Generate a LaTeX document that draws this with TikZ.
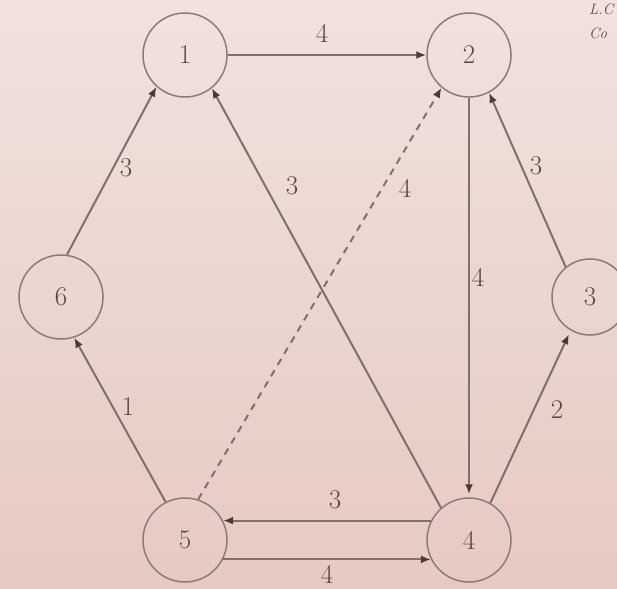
\documentclass[tikz,border=0pt]{standalone}
\usetikzlibrary{arrows.meta,shadings}
\definecolor{bgtop}{RGB}{240,226,222}
\definecolor{bgbot}{RGB}{230,202,194}
\definecolor{edgec}{RGB}{128,112,108}
\definecolor{circc}{RGB}{140,124,120}
\definecolor{tipc}{RGB}{75,58,54}
\definecolor{txtc}{RGB}{90,72,68}
\begin{document}
\begin{tikzpicture}[x=1pt,y=-1pt,
  vert/.style={circle,draw=circc,line width=1.5pt,minimum size=84pt,inner sep=0pt,text=txtc,font=\fontsize{27}{30}\selectfont},
  conn/.style={draw=edgec,line width=2pt,-{Latex[length=10pt,width=8pt,fill=tipc,color=tipc]}},
  lbl/.style={text=txtc,font=\fontsize{27}{30}\selectfont,inner sep=0pt},
  dashedconn/.style={conn,dash pattern=on 7pt off 6pt}]
\shade[top color=bgtop,bottom color=bgbot] (0,0) rectangle (617,588);
\useasboundingbox (0,0) rectangle (617,588);
\node[vert] (n1) at (185,55) {1};
\node[vert] (n2) at (469,55) {2};
\node[vert,minimum size=76pt] (n3) at (590,297) {3};
\node[vert] (n4) at (469,540) {4};
\node[vert] (n5) at (185,540) {5};
\node[vert] (n6) at (61,297) {6};
\node[anchor=west,text=txtc,font=\fontsize{15}{18}\selectfont\itshape,inner sep=0pt] (t1) at (589,9) {L.C};
\node[anchor=west,text=txtc,font=\fontsize{15}{18}\selectfont\itshape,inner sep=0pt] (t2) at (589,33) {Co};
% edges
\draw[conn] (n1.east) -- (n2.west);
\draw[conn,shorten >=3pt] (n2.south) -- (n4.north);
\draw[conn] (n3.129) -- (n2.298);
\draw[conn,shorten >=4pt] (n4.60) -- (n3.240);
\draw[conn] (n4.131) -- (n1.309);
\draw[dashedconn] (n5.72) -- (n2.230);
\draw[conn] (n5.117) -- (n6.288);
\draw[conn] (n6.82) -- (n1.228);
\draw[conn] (n4.153) -- (n5.27);
\draw[conn] (n5.-27) -- (n4.207);
% labels
\node[lbl] (l12) at (322,33) {4};
\node[lbl] (l24) at (478,277) {4};
\node[lbl] (l32) at (536,166) {3};
\node[lbl] (l43) at (557,410) {2};
\node[lbl] (l41) at (292,186) {3};
\node[lbl] (l52) at (405,188) {4};
\node[lbl] (l56) at (128,407) {1};
\node[lbl] (l61) at (126,168) {3};
\node[lbl] (l45) at (335,500) {3};
\node[lbl] (l54) at (327,574) {4};
\end{tikzpicture}
\end{document}
